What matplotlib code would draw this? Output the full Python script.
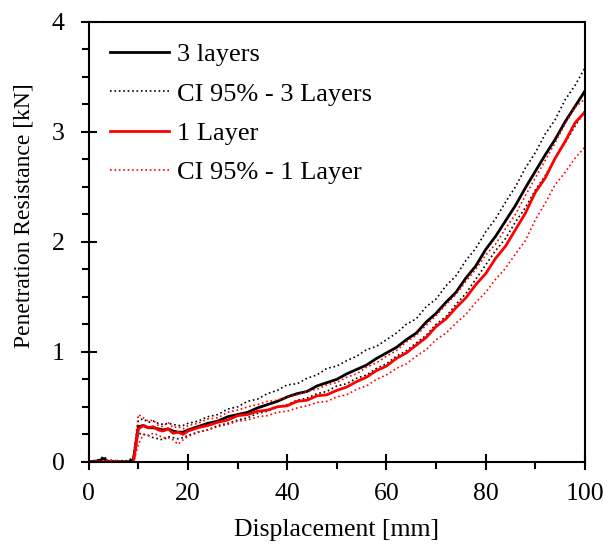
import numpy as np
import matplotlib.pyplot as plt
from matplotlib.ticker import MultipleLocator

plt.rcParams['font.family'] = ['Liberation Serif', 'DejaVu Serif']

# Displacement [mm]
disp = [0, 2, 3, 4, 6, 8, 9, 10, 11, 12, 13, 14, 15, 16, 17, 18, 19, 20,
        22, 24, 26, 28, 30, 32, 34, 36, 38, 40, 42, 44, 46, 48, 50, 52, 54, 56, 58, 60,
        62, 64, 66, 68, 70, 72, 74, 76, 78, 80, 82, 84, 86, 88, 90, 92, 94, 96, 98, 100]

# 3 layers - mean and 95% CI [kN]
three_mean = [0, 0.01, 0.03, 0.0, 0.0, 0.0, 0.02, 0.32, 0.33, 0.31, 0.31, 0.30, 0.29, 0.30, 0.28, 0.27, 0.27, 0.29,
              0.32, 0.35, 0.37, 0.41, 0.43, 0.45, 0.49, 0.52, 0.55, 0.59, 0.62, 0.64, 0.69, 0.72, 0.75, 0.80, 0.84, 0.88, 0.94, 0.99,
              1.04, 1.11, 1.17, 1.27, 1.35, 1.45, 1.54, 1.67, 1.78, 1.93, 2.05, 2.19, 2.33, 2.49, 2.64, 2.79, 2.93, 3.09, 3.23, 3.37]
three_hi = [0, 0.02, 0.05, 0.01, 0.01, 0.01, 0.05, 0.38, 0.39, 0.36, 0.37, 0.35, 0.34, 0.35, 0.34, 0.33, 0.33, 0.35,
            0.37, 0.41, 0.43, 0.48, 0.50, 0.55, 0.57, 0.62, 0.65, 0.70, 0.71, 0.76, 0.79, 0.85, 0.87, 0.92, 0.96, 1.02, 1.05, 1.11,
            1.17, 1.25, 1.30, 1.41, 1.48, 1.60, 1.69, 1.83, 1.94, 2.09, 2.21, 2.36, 2.50, 2.67, 2.81, 2.98, 3.11, 3.29, 3.42, 3.58]
three_lo = [0, -0.01, 0.0, -0.01, -0.01, -0.01, 0.0, 0.26, 0.25, 0.24, 0.22, 0.21, 0.20, 0.23, 0.22, 0.21, 0.22, 0.24,
            0.27, 0.29, 0.33, 0.35, 0.38, 0.40, 0.44, 0.46, 0.50, 0.52, 0.56, 0.58, 0.62, 0.64, 0.69, 0.71, 0.76, 0.79, 0.85, 0.89,
            0.96, 1.01, 1.08, 1.15, 1.25, 1.32, 1.43, 1.53, 1.66, 1.79, 1.92, 2.03, 2.18, 2.31, 2.47, 2.60, 2.76, 2.90, 3.05, 3.19]

# 1 layer - mean and 95% CI [kN]
one_mean = [0, 0, 0, 0, 0, -0.01, 0.0, 0.30, 0.33, 0.31, 0.32, 0.29, 0.28, 0.30, 0.26, 0.27, 0.25, 0.28,
            0.31, 0.33, 0.36, 0.38, 0.42, 0.43, 0.46, 0.47, 0.50, 0.51, 0.55, 0.56, 0.60, 0.61, 0.65, 0.68, 0.73, 0.77, 0.83, 0.87,
            0.94, 0.99, 1.06, 1.13, 1.23, 1.30, 1.40, 1.49, 1.61, 1.71, 1.85, 1.96, 2.11, 2.26, 2.45, 2.58, 2.76, 2.91, 3.08, 3.18]
one_hi = [0, 0, 0, 0.02, 0.01, 0.0, 0.01, 0.43, 0.40, 0.37, 0.38, 0.33, 0.32, 0.36, 0.31, 0.32, 0.30, 0.33,
          0.35, 0.39, 0.40, 0.45, 0.47, 0.50, 0.52, 0.55, 0.56, 0.59, 0.61, 0.64, 0.66, 0.70, 0.72, 0.77, 0.80, 0.86, 0.90, 0.96,
          1.01, 1.09, 1.15, 1.24, 1.33, 1.43, 1.52, 1.64, 1.75, 1.88, 1.98, 2.12, 2.25, 2.42, 2.58, 2.74, 2.90, 3.07, 3.22, 3.30]
one_lo = [0, 0, 0, -0.01, -0.01, -0.02, -0.01, 0.16, 0.25, 0.24, 0.26, 0.24, 0.22, 0.22, 0.20, 0.16, 0.20, 0.23,
          0.27, 0.29, 0.32, 0.34, 0.37, 0.38, 0.41, 0.42, 0.45, 0.46, 0.49, 0.51, 0.54, 0.55, 0.59, 0.61, 0.66, 0.69, 0.75, 0.79,
          0.85, 0.89, 0.96, 1.02, 1.11, 1.17, 1.26, 1.34, 1.45, 1.54, 1.66, 1.76, 1.89, 2.01, 2.20, 2.35, 2.52, 2.63, 2.76, 2.86]

fig = plt.figure(figsize=(6.08, 5.44), dpi=100)
ax = fig.add_axes([0.146, 0.151, 0.816, 0.809])

ax.plot(disp, three_mean, color='black', lw=2, label='3 layers')
ax.plot(disp, three_hi, color='black', lw=1.2, ls=':', label='CI 95% - 3 Layers')
ax.plot(disp, three_lo, color='black', lw=1.2, ls=':')
ax.plot(disp, one_mean, color='red', lw=2, label='1 Layer')
ax.plot(disp, one_hi, color='red', lw=1.2, ls=':', label='CI 95% - 1 Layer')
ax.plot(disp, one_lo, color='red', lw=1.2, ls=':')

ax.set_xlim(0, 100)
ax.set_ylim(0, 4)
ax.xaxis.set_major_locator(MultipleLocator(20))
ax.xaxis.set_minor_locator(MultipleLocator(10))
ax.yaxis.set_major_locator(MultipleLocator(1))
ax.yaxis.set_minor_locator(MultipleLocator(0.25))
ax.tick_params(which='major', direction='inout', length=11, width=1.5, labelsize=18.5)
ax.tick_params(which='minor', direction='out', length=5, width=1.5)
ax.tick_params(axis='x', which='major', pad=10)
ax.tick_params(axis='y', which='major', pad=12)
for s in ax.spines.values():
    s.set_linewidth(1.5)

ax.set_xlabel('Displacement [mm]', fontsize=18.5, labelpad=10)
ax.set_ylabel('Penetration Resistance [kN]', fontsize=17)
ax.yaxis.set_label_coords(-0.11, 0.56)

ax.legend(loc='upper left', frameon=False, fontsize=19, handlelength=2.25,
          handletextpad=0.3, labelspacing=0.6, borderaxespad=0.4)

fig.savefig('out.png', dpi=100)
